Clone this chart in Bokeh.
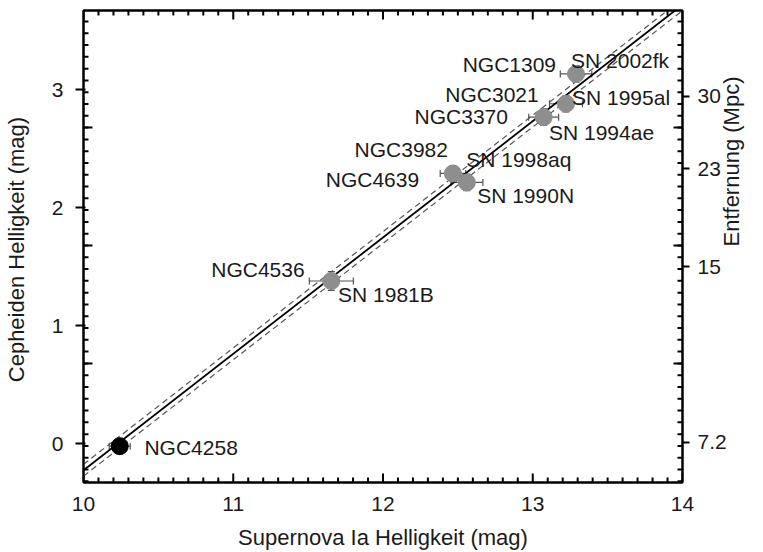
import math
import numpy as np
from bokeh.plotting import figure
from bokeh.models import ColumnDataSource, LinearAxis, FixedTicker, Whisker, TeeHead
from bokeh.core.properties import value
from bokeh.embed import file_html
from bokeh.resources import INLINE

# ---------------- data ----------------
galaxies = ["NGC4258", "NGC4536", "NGC3982", "NGC4639", "NGC3370", "NGC3021", "NGC1309"]
supernovae = ["", "SN 1981B", "SN 1998aq", "SN 1990N", "SN 1994ae", "SN 1995al", "SN 2002fk"]
sn_mag = [10.242, 11.655, 12.467, 12.560, 13.073, 13.222, 13.289]
ceph_mag = [-0.022, 1.379, 2.291, 2.215, 2.768, 2.882, 3.135]
sn_err = [0.07, 0.147, 0.085, 0.107, 0.10, 0.11, 0.105]
ceph_err = [0.03, 0.08, 0.065, 0.07, 0.07, 0.07, 0.07]

x_ticks = [10, 11, 12, 13, 14]
y_ticks = [0, 1, 2, 3]
dist_labels = ["7.2", "15", "23", "30"]
dist_positions = [0.01, 1.50, 2.33, 2.945]
inner_long_ticks = [0.68, 1.68, 2.68]

fit_slope = 0.987
fit_at_10 = -0.226
fit_band = 0.05

# ---------------- styles / layout ----------------
FONT_NAME = "Liberation Sans"
FONT = value(FONT_NAME)
X0, X1 = 10.0, 14.0
Y0, Y1 = -0.33, 3.673
W, H = 763, 552
BL, BR, BT, BB = 82, 81, 10, 66
px_per_x = (W - BL - BR) / (X1 - X0)
px_per_y = (H - BT - BB) / (Y1 - Y0)

point_colors = ["black"] + ["#8e8e8e"] * 6
gal_align = ["left"] + ["right"] * 6
gal_dx = [24.7, -26.7, -5, -47.7, -35.7, -27.3, -20]
gal_dy = [1.4, -11, -24.3, -2.6, -0.8, -9, -9]
sn_dx = [0, 6.7, 13.3, 10.3, 5.3, 6, -5]
sn_dy = [0, 14, -14.3, 13.4, 15.5, -6, -13]

p = figure(width=W, height=H, x_range=(X0, X1), y_range=(Y0, Y1),
           output_backend="svg", toolbar_location=None,
           min_border_left=BL, min_border_right=BR, min_border_top=BT, min_border_bottom=BB)
p.xgrid.visible = False
p.ygrid.visible = False
p.outline_line_color = "black"
p.outline_line_width = 2
p.background_fill_color = "white"
p.border_fill_color = "white"

x_minor = [float(round(v, 1)) for v in np.arange(10.1, 14.0, 0.1) if abs(v - round(v)) > 1e-6]
y_minor = [float(round(v, 2)) for v in np.arange(-0.32, 3.66, 0.1)]


def style_axis(ax, size="21px"):
    ax.axis_line_width = 2
    ax.axis_line_color = "black"
    ax.major_tick_line_color = "black"
    ax.major_tick_line_width = 2
    ax.minor_tick_in = 0
    ax.minor_tick_out = 0
    ax.major_label_text_font = FONT_NAME
    ax.major_label_text_font_size = size
    ax.major_label_text_color = "#1a1a1a"
    ax.axis_label_text_font = FONT_NAME
    ax.axis_label_text_font_size = "22px"
    ax.axis_label_text_font_style = "normal"
    ax.axis_label_text_color = "#1a1a1a"


# bottom
xb = p.xaxis[0]
xb.ticker = FixedTicker(ticks=x_ticks)
style_axis(xb)
xb.major_tick_in = 0
xb.major_tick_out = 0
xb.major_label_standoff = 14
xb.axis_label = "Supernova Ia Helligkeit (mag)"
xb.axis_label_standoff = 11

# top (frame edge only; its ticks are drawn below)
xt = LinearAxis(ticker=FixedTicker(ticks=[]))
style_axis(xt)
xt.major_tick_in = 0
xt.major_tick_out = 0
xt.major_label_standoff = 0
p.add_layout(xt, "above")

# left
yl = p.yaxis[0]
yl.ticker = FixedTicker(ticks=y_ticks)
style_axis(yl)
yl.major_tick_in = 2
yl.major_tick_out = 8
yl.major_label_standoff = 12
yl.axis_label = "Cepheiden Helligkeit  (mag)"
yl.axis_label_standoff = 20

# right (distance)
yr = LinearAxis(ticker=FixedTicker(ticks=dist_positions))
style_axis(yr)
yr.major_tick_in = 0
yr.major_tick_out = 7
yr.major_label_standoff = 8
yr.major_label_overrides = {pos: lab for pos, lab in zip(dist_positions, dist_labels)}
yr.axis_label = "Entfernung  (Mpc)"
yr.axis_label_standoff = 2
try:
    yr.axis_label_orientation = math.pi / 2
except Exception:
    pass
p.add_layout(yr, "right")

# inner tick marks on all four frame edges
mx_in, mn_in = 9, 5
xs, ys = [], []
for t in x_ticks + x_minor:
    L = (mx_in if t in x_ticks else mn_in) / px_per_y
    xs += [[t, t], [t, t]]
    ys += [[Y0, Y0 + L], [Y1 - L, Y1]]
for t in y_minor:
    L = mn_in / px_per_x
    xs += [[X0, X0 + L], [X1 - L, X1]]
    ys += [[t, t], [t, t]]
for t in inner_long_ticks:
    L = mx_in / px_per_x
    xs += [[X0, X0 + L], [X1 - L, X1]]
    ys += [[t, t], [t, t]]
p.multi_line(xs, ys, line_color="black", line_width=2)

# fit line with band
lx = np.array([X0, X1])
ly = fit_at_10 + fit_slope * (lx - X0)
p.line(lx, ly + fit_band, line_color="#555555", line_width=1.2, line_dash="6 4")
p.line(lx, ly - fit_band, line_color="#555555", line_width=1.2, line_dash="6 4")
p.line(lx, ly, line_color="black", line_width=1.8)

# data
src = ColumnDataSource(dict(
    x=sn_mag, y=ceph_mag,
    xl=[a - b for a, b in zip(sn_mag, sn_err)], xu=[a + b for a, b in zip(sn_mag, sn_err)],
    yl=[a - b for a, b in zip(ceph_mag, ceph_err)], yu=[a + b for a, b in zip(ceph_mag, ceph_err)],
    color=point_colors,
))
err_col = "#555555"
p.add_layout(Whisker(source=src, base="y", lower="xl", upper="xu", dimension="width",
                     line_color=err_col, line_width=1.2,
                     lower_head=TeeHead(size=7, line_color=err_col, line_width=1.2),
                     upper_head=TeeHead(size=7, line_color=err_col, line_width=1.2)))
p.add_layout(Whisker(source=src, base="x", lower="yl", upper="yu", dimension="height",
                     line_color=err_col, line_width=1.2,
                     lower_head=TeeHead(size=7, line_color=err_col, line_width=1.2),
                     upper_head=TeeHead(size=7, line_color=err_col, line_width=1.2)))
p.scatter("x", "y", source=src, size=17, fill_color="color", line_color="color")

# labels
for i in range(len(galaxies)):
    p.text(x=[sn_mag[i]], y=[ceph_mag[i]], text=[galaxies[i]],
           x_offset=gal_dx[i], y_offset=gal_dy[i],
           text_align=gal_align[i], text_baseline="middle",
           text_font=FONT, text_font_size="21px", text_color="#1a1a1a")
    if supernovae[i]:
        p.text(x=[sn_mag[i]], y=[ceph_mag[i]], text=[supernovae[i]],
               x_offset=sn_dx[i], y_offset=sn_dy[i],
               text_align="left", text_baseline="middle",
               text_font=FONT, text_font_size="21px", text_color="#1a1a1a")

open("out.html", "w").write(file_html(p, INLINE))
